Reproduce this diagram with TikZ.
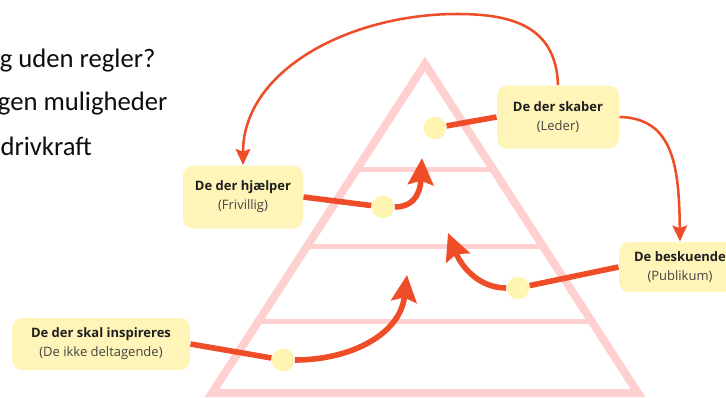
\documentclass[tikz,border=0pt]{standalone}
\usepackage{fontspec}
\setmainfont{Open Sans}
\newfontfamily\listefont{Carlito}
\usetikzlibrary{arrows.meta}

\definecolor{pilrod}{RGB}{238,77,40}
\definecolor{rollegul}{RGB}{255,245,184}
\definecolor{prikgul}{RGB}{255,244,176}
\definecolor{trekantrosa}{RGB}{255,208,208}
\definecolor{tekstgraa}{RGB}{68,68,68}

\tikzset{every picture/.style={line width=0.75pt}}

\begin{document}
\begin{tikzpicture}[x=0.75pt,y=0.75pt,yscale=-1,xscale=1,
  rolle/.style={fill=rollegul, rounded corners=7.5pt, align=center, inner sep=0pt,
    text=tekstgraa, font=\fontsize{9.75pt}{14.25pt}\selectfont},
  prik/.style={circle, fill=prikgul, minimum size=17pt, inner sep=0pt},
  kant/.style={draw=trekantrosa, line width=6pt, line join=miter},
  lag/.style={draw=trekantrosa, line width=3.75pt},
  tyk/.style={draw=pilrod, line width=4.2pt},
  tykpil/.style={tyk, -{Stealth[length=20pt,width=19pt,inset=3pt]}},
  tyndpil/.style={draw=pilrod, line width=1.9pt, -{Stealth[length=12pt,width=11pt,inset=2pt]}},
  liste/.style={inner sep=0pt, text=black!95, font=\listefont\fontsize{20pt}{24pt}\selectfont}]
\useasboundingbox (0,0) rectangle (726,397);

%Shape: Triangle
\draw[kant] (425,64) -- (212,393) -- (638,393) -- cycle;
%Straight Lines
\foreach \h in {169,246,321}
  \draw[lag] ({425-0.649*(\h-64)},\h) -- ({425+0.649*(\h-64)},\h);

% Text Node
\node[liste, anchor=base east] (linje1) at (156,67) {g uden regler?};
\node[liste, anchor=base east] (linje2) at (168,110) {gen muligheder};
\node[liste, anchor=base west] (linje3) at (0,155) {drivkraft};

% Text Node
\node[rolle, minimum width=91.5pt, minimum height=47.25pt] (leder) at (558,117)
  {\textcolor{black!88}{\bfseries De der skaber}\\(Leder)};
\node[rolle, minimum width=90pt, minimum height=47.25pt] (hjaelper) at (243,197)
  {\textcolor{black!88}{\bfseries De der hjælper}\\(Frivillig)};
\node[rolle, minimum width=133.5pt, minimum height=39pt] (inspir) at (101,344)
  {\textcolor{black!88}{\bfseries De der skal inspireres}\\(De ikke deltagende)};
\node[rolle, minimum width=91.5pt, minimum height=37.5pt] (besk) at (680,267)
  {\textcolor{black!88}{\bfseries De beskuende}\\(Publikum)};

%Shape: Circle
\node[prik] (c1) at (435,128) {};
\node[prik] (c2) at (383,207) {};
\node[prik] (c3) at (283,360) {};
\node[prik] (c4) at (518,288) {};

%Straight Lines
\draw[tyk] (leder.west) -- (c1);
\draw[tyk] (hjaelper.east) -- (c2);
\draw[tyk] (inspir.east) -- (c3);
\draw[tyk] (besk.west) -- (c4);

%Curve Lines
\draw[tykpil] (c2.east) .. controls (410,207) and (420,198) .. (422,158);
\draw[tykpil] (c3.east) .. controls (350,360) and (400,335) .. (407,275);
\draw[tykpil] (c4.west) .. controls (480,288) and (462,268) .. (448,233);
\draw[tyndpil] (leder.north) .. controls (556,25) and (510,14) .. (457,14)
  .. controls (350,14) and (243,70) .. (hjaelper.north);
\draw[tyndpil] (leder.east) .. controls (675,118) and (679,170) .. (besk.north);

\end{tikzpicture}
\end{document}
